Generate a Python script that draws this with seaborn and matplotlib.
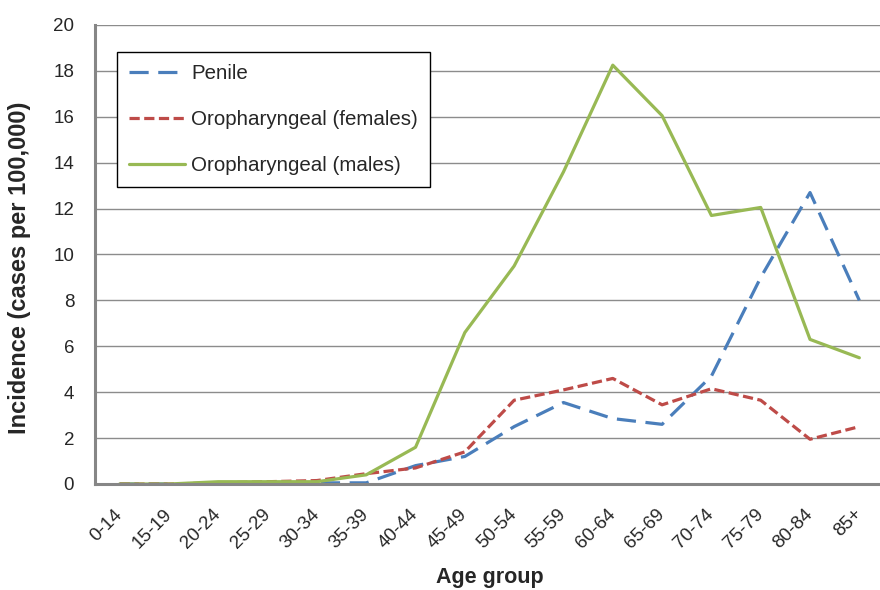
import numpy as np
import pandas as pd
import seaborn as sns
import matplotlib.pyplot as plt
from matplotlib.transforms import ScaledTranslation

# data
age_groups = ['0-14', '15-19', '20-24', '25-29', '30-34', '35-39', '40-44', '45-49',
              '50-54', '55-59', '60-64', '65-69', '70-74', '75-79', '80-84', '85+']
penile = [0.0, 0.0, 0.0, 0.05, 0.05, 0.05, 0.8, 1.2, 2.5, 3.55, 2.85, 2.6, 4.7, 9.0, 12.7, 8.0]
oro_females = [0.0, 0.0, 0.05, 0.1, 0.15, 0.45, 0.7, 1.4, 3.65, 4.1, 4.6, 3.45, 4.15, 3.65, 1.95, 2.5]
oro_males = [0.0, 0.0, 0.1, 0.1, 0.1, 0.4, 1.6, 6.6, 9.5, 13.6, 18.25, 16.05, 11.7, 12.05, 6.3, 5.5]

series_names = ['Penile', 'Oropharyngeal (females)', 'Oropharyngeal (males)']
series_vals = [penile, oro_females, oro_males]
colors = ['#4A7EBB', '#BE4B48', '#98B954']

rows = []
for name, vals in zip(series_names, series_vals):
    for i, v in enumerate(vals):
        rows.append({'pos': i, 'age': age_groups[i], 'series': name, 'value': v})
df = pd.DataFrame(rows)

sns.set_style('white')
plt.rcParams['font.family'] = ['Liberation Sans', 'DejaVu Sans']

fig = plt.figure(figsize=(8.8, 5.9), dpi=100)
ax = fig.add_axes([95 / 880, 1 - 484 / 590, 789 / 880, 459 / 590])

sns.lineplot(data=df, x='pos', y='value', hue='series', style='series',
             hue_order=series_names, style_order=series_names,
             palette=colors, dashes=[(6, 3), (3.2, 1.4), ''],
             linewidth=2.3, ax=ax)

ax.set_xlim(-0.5, 15.5)
ax.set_ylim(0, 20)
ax.set_yticks(np.arange(0, 21, 2))
ax.set_yticklabels([str(v) for v in range(0, 21, 2)], fontsize=13.5)
ax.set_xticks(range(len(age_groups)))
ax.set_xticklabels(age_groups, rotation=45, fontsize=13.5, ha='right', va='center',
                   rotation_mode='anchor')
shift = ScaledTranslation(6 / 100, 0, fig.dpi_scale_trans)
for lbl in ax.get_xticklabels():
    lbl.set_transform(lbl.get_transform() + shift)
ax.set_xticks(np.arange(-0.5, 16, 1), minor=True)
ax.tick_params(axis='x', which='major', length=0, pad=20)
ax.tick_params(axis='x', which='minor', length=7, color='#868686', width=1)
ax.tick_params(axis='y', length=7, color='#868686', width=1, pad=8)
ax.grid(axis='y', color='#8C8C8C', linewidth=1)
ax.set_axisbelow(True)

for s in ['top', 'right']:
    ax.spines[s].set_visible(False)
for s in ['left', 'bottom']:
    ax.spines[s].set_color('#868686')
    ax.spines[s].set_linewidth(2.2)

ax.set_xlabel('Age group', fontsize=15.5, fontweight='bold', va='center')
ax.xaxis.set_label_coords(0.5, (484 - 577) / 459)
ax.set_ylabel('Incidence (cases per 100,000)', fontsize=17, fontweight='bold', va='center')
ax.yaxis.set_label_coords((20 - 95) / 789, 0.47)

leg = ax.legend(loc='upper left', bbox_to_anchor=(22 / 789, 1 - 27 / 459), fontsize=14.8,
                frameon=True, fancybox=False, edgecolor='black', framealpha=1,
                handlelength=2.7, handletextpad=0.3, labelspacing=1.3,
                borderpad=0.6, borderaxespad=0)
leg.get_frame().set_linewidth(1)

fig.savefig('out.png', dpi=100)
